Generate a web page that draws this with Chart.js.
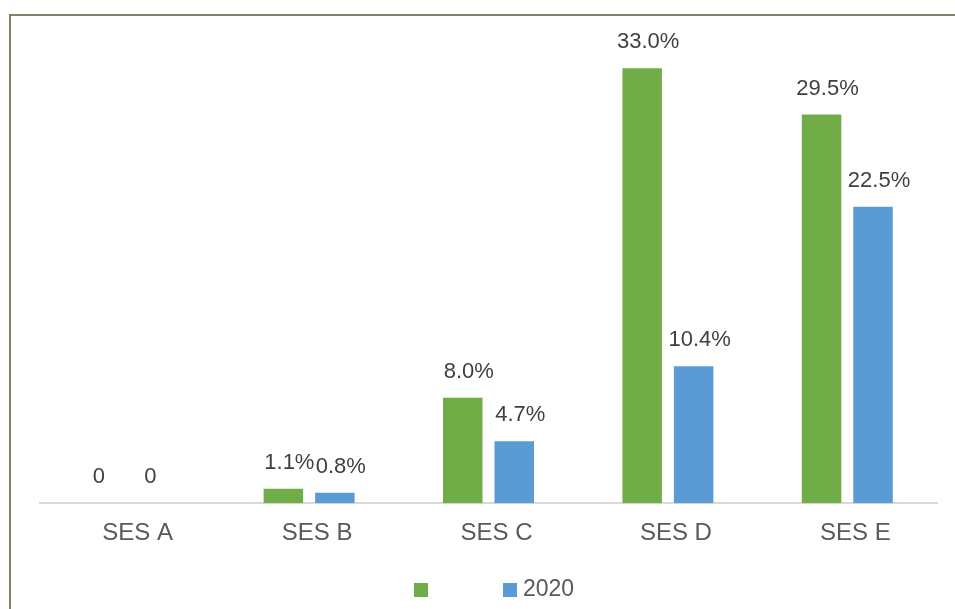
<!DOCTYPE html>
<html>
<head>
<meta charset="utf-8">
<script src="https://cdn.jsdelivr.net/npm/chart.js@4/dist/chart.umd.min.js"></script>
<style>
  html, body { margin: 0; padding: 0; background: #fff; }
  #wrap { position: relative; width: 955px; height: 609px; overflow: hidden; }
  #frame { position: absolute; left: 9px; top: 14px; width: 1000px; height: 700px;
           border-top: 2px solid #7f8463; border-left: 2px solid #7f8463; }
  canvas { position: absolute; left: 0; top: 0; }
</style>
</head>
<body>
<div id="wrap">
  <div id="frame"></div>
  <canvas id="chart" width="955" height="609"></canvas>
</div>
<script>
const categories = ['SES A', 'SES B', 'SES C', 'SES D', 'SES E'];
const seriesGreen = [0, 1.1, 8.0, 33.0, 29.5];
const seriesBlue = [0, 0.8, 4.7, 10.4, 22.5];
const seriesLabels = ['', '2020'];
const colors = ['#70ad47', '#5b9bd5'];

const fmt = (v) => (v === 0 ? '0' : v.toFixed(1) + '%');

// value labels over the bars + legend along the bottom
const overlay = {
  id: 'overlay',
  afterDatasetsDraw(chart) {
    const ctx = chart.ctx;
    ctx.save();
    ctx.font = '22px "Liberation Sans", Arial, sans-serif';
    ctx.fillStyle = '#404040';
    ctx.textAlign = 'center';
    ctx.textBaseline = 'middle';
    chart.data.datasets.forEach((ds, i) => {
      chart.getDatasetMeta(i).data.forEach((bar, j) => {
        const v = ds.data[j];
        // labels in the source sit a little right of the bar centre (zeros a bit left)
        const dx = v === 0 ? -5 : 6;
        ctx.fillText(fmt(v), bar.x + dx, bar.y - 26);
      });
    });

    // legend
    const boxes = [414, 503];
    ctx.font = '23px "Liberation Sans", Arial, sans-serif';
    ctx.textAlign = 'left';
    chart.data.datasets.forEach((ds, i) => {
      ctx.fillStyle = ds.backgroundColor;
      ctx.fillRect(boxes[i], 583, 14, 14);
      if (ds.label) {
        ctx.fillStyle = '#595959';
        ctx.fillText(ds.label, boxes[i] + 20, 590);
      }
    });
    ctx.restore();
  }
};

new Chart(document.getElementById('chart'), {
  type: 'bar',
  data: {
    labels: categories,
    datasets: [
      { label: seriesLabels[0], data: seriesGreen, backgroundColor: colors[0] },
      { label: seriesLabels[1], data: seriesBlue, backgroundColor: colors[1] },
    ],
  },
  options: {
    responsive: false,
    animation: false,
    categoryPercentage: 0.574,
    barPercentage: 0.767,
    layout: { padding: { left: 40, right: 18, top: 42, bottom: 45 } },
    plugins: { legend: { display: false }, tooltip: { enabled: false } },
    scales: {
      x: {
        grid: { display: false, drawTicks: false },
        border: { color: '#d9d9d9', width: 2 },
        ticks: {
          color: '#595959',
          padding: 16,
          labelOffset: 8,
          font: { family: '"Liberation Sans", Arial, sans-serif', size: 24 },
        },
      },
      y: { display: false, min: 0, max: 35 },
    },
  },
  plugins: [overlay],
});
</script>
</body>
</html>
